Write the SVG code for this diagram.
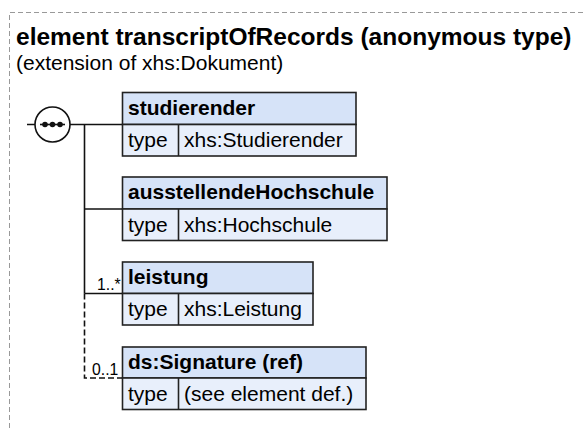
<svg xmlns="http://www.w3.org/2000/svg" width="584" height="428" viewBox="0 0 584 428">
  <style>
    .frame { fill: none; stroke: #999; stroke-width: 1; stroke-dasharray: 5 3; }
    .title { font: bold 24.5px "Liberation Sans", Arial, sans-serif; fill: #000; }
    .sub { font: 21px "Liberation Sans", Arial, sans-serif; fill: #000; }
    .hd { fill: #d6e3f8; stroke: #222; stroke-width: 1.6; }
    .row { fill: #e8effb; stroke: #222; stroke-width: 1.6; }
    .div { stroke: #222; stroke-width: 1.6; }
    .name { font: bold 21px "Liberation Sans", Arial, sans-serif; fill: #000; }
    .txt { font: 21px "Liberation Sans", Arial, sans-serif; fill: #000; }
    .card { font: 15.75px "Liberation Sans", Arial, sans-serif; fill: #000; }
    .line { fill: none; stroke: #111; stroke-width: 1.6; }
    .opt { stroke-dasharray: 6 3; }
  </style>

  <!-- component frame -->
  <path class="frame" d="M9.5,428 V12.5 H584"/>
  <text class="title" x="16" y="44.5">element transcriptOfRecords (anonymous type)</text>
  <text class="sub" x="16" y="70">(extension of xhs:Dokument)</text>

  <!-- connectors -->
  <g id="connectors">
    <path class="line" d="M27,124.5 H35 M70,124.5 H122.5"/>
    <path class="line" d="M84.5,124.5 V293.5"/>
    <path class="line" d="M84.5,209 H122.5"/>
    <path class="line" d="M84.5,293.5 H122.5"/>
    <path class="line opt" d="M84.5,293.5 V378 H122.5"/>
    <text class="card" x="97" y="289.5">1..*</text>
    <text class="card" x="92" y="375">0..1</text>
  </g>

  <!-- sequence compositor -->
  <g id="sequence">
    <circle cx="52.5" cy="124.5" r="17.5" fill="#fff" stroke="#111" stroke-width="1.6"/>
    <line x1="40" y1="124.5" x2="65" y2="124.5" stroke="#111" stroke-width="1.6"/>
    <circle cx="45" cy="124.5" r="2.8" fill="#111"/>
    <circle cx="52.5" cy="124.5" r="2.8" fill="#111"/>
    <circle cx="60" cy="124.5" r="2.8" fill="#111"/>
  </g>

  <g id="studierender">
    <rect class="hd" x="122.5" y="92.5" width="233.5" height="32"/>
    <rect class="row" x="122.5" y="124.5" width="233.5" height="31.5"/>
    <line class="div" x1="178.5" y1="124.5" x2="178.5" y2="156"/>
    <text class="name" x="128" y="114.5">studierender</text>
    <text class="txt" x="128" y="147">type</text>
    <text class="txt" x="184" y="147">xhs:Studierender</text>
  </g>

  <g id="ausstellendeHochschule">
    <rect class="hd" x="122.5" y="177" width="264.5" height="32"/>
    <rect class="row" x="122.5" y="209" width="264.5" height="31.5"/>
    <line class="div" x1="178.5" y1="209" x2="178.5" y2="240.5"/>
    <text class="name" x="128" y="199">ausstellendeHochschule</text>
    <text class="txt" x="128" y="231.5">type</text>
    <text class="txt" x="184" y="231.5">xhs:Hochschule</text>
  </g>

  <g id="leistung">
    <rect class="hd" x="122.5" y="262" width="190.5" height="31.5"/>
    <rect class="row" x="122.5" y="293.5" width="190.5" height="31.5"/>
    <line class="div" x1="178.5" y1="293.5" x2="178.5" y2="325"/>
    <text class="name" x="128" y="284">leistung</text>
    <text class="txt" x="128" y="316">type</text>
    <text class="txt" x="184" y="316">xhs:Leistung</text>
  </g>

  <g id="signature">
    <rect class="hd" x="122.5" y="347" width="243.5" height="31"/>
    <rect class="row" x="122.5" y="378" width="243.5" height="31.5"/>
    <line class="div" x1="178.5" y1="378" x2="178.5" y2="409.5"/>
    <text class="name" x="128" y="369">ds:Signature (ref)</text>
    <text class="txt" x="128" y="400.5">type</text>
    <text class="txt" x="184" y="400.5">(see element def.)</text>
  </g>
</svg>
